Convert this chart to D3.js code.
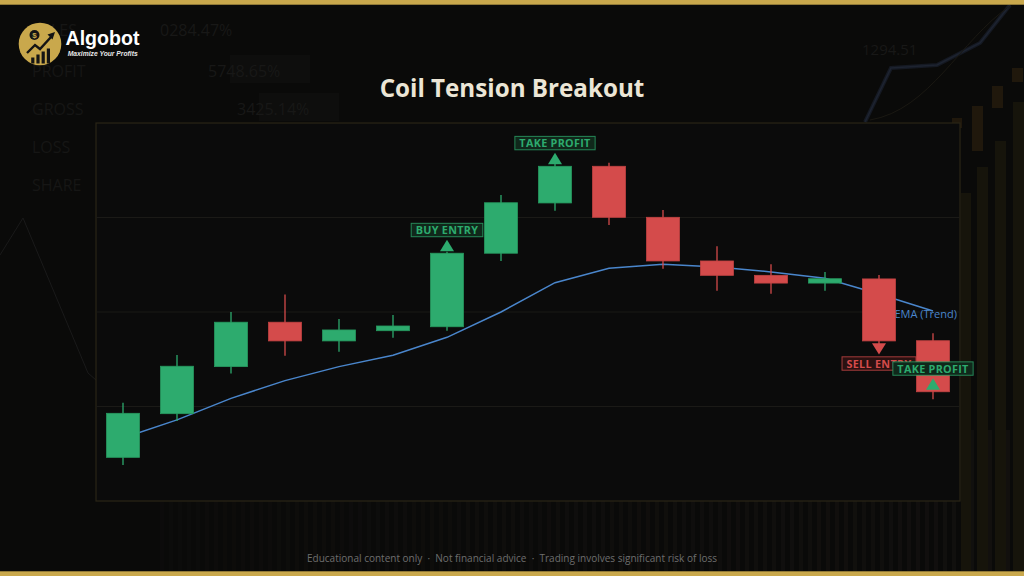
<!DOCTYPE html>
<html><head><meta charset="utf-8">
<script src="https://cdn.jsdelivr.net/npm/d3@7"></script>
<style>html,body{margin:0;padding:0;background:#0a0a09;overflow:hidden}svg{display:block}</style>
</head><body><svg id="c" width="1024" height="576"></svg>
<script>
// ---- data ----
const candleIds = ["1","2","3","4","5","6","7","8","9","10","11","12","13","14","15","16"];
const opens  = [102.31,104.62,107.11,109.46,108.47,109.01,109.22,113.11,115.77,117.71,115.01,112.70,111.94,111.53,111.75,108.48];
const highs  = [105.20,107.72,110.00,110.93,109.63,109.84,113.19,116.19,117.88,117.90,115.40,113.48,112.52,112.12,111.96,108.87];
const lows   = [101.90,104.23,106.74,107.69,107.90,108.64,109.01,112.70,115.36,114.60,112.29,111.13,110.97,111.13,108.25,105.38];
const closes = [104.64,107.13,109.46,108.47,109.05,109.26,113.11,115.78,117.71,115.01,112.70,111.94,111.53,111.76,108.47,105.78];
const emaValues = [103.33,104.29,105.43,106.37,107.11,107.71,108.66,110.00,111.55,112.31,112.52,112.38,112.12,111.78,110.95,110.05];
const priceTicks = [100,105,110,115,120];
const markerIndex = [6,8,14,15];
const markerText  = ["BUY ENTRY","TAKE PROFIT","SELL ENTRY","TAKE PROFIT"];
const markerDir   = ["up","up","down","up"];
const titleText = "Coil Tension Breakout";
const emaLabel = "EMA (Trend)";
const footerText = "Educational content only  ·  Not financial advice  ·  Trading involves significant risk of loss";
const bgNames = ["SALES","PROFIT","GROSS","LOSS","SHARE"];
const bgNums = ["0284.47%","5748.65%","3425.14%","1294.51"];

// ---- setup ----
const W = 1024, H = 576;
const svg = d3.select("#c");
const GREEN = "#2dab6e", RED = "#d44b4b", GOLD = "#c9a84c";
const plot = {x0:96, x1:960, y0:123, y1:501};

// background
svg.append("rect").attr("width",W).attr("height",H).attr("fill","#0a0a09");
const bg = svg.append("g");
// faint stripes
const stripes = d3.range(160, 1024, 9);
bg.selectAll("rect.st").data(stripes).join("rect")
  .attr("x",d=>d).attr("y",430).attr("width",4).attr("height",141)
  .attr("fill","#141210").attr("opacity",d=>0.3 + 0.5*(d-160)/864);
// faint right bars
const rbars = [[961,193,10],[977,167,11],[995,141,11],[1013,102,11]];
bg.selectAll("rect.vb").data(rbars).join("rect")
  .attr("x",d=>d[0]).attr("y",d=>d[1]).attr("width",d=>d[2]).attr("height",d=>571-d[1]).attr("fill","#16140b");
const rcand = [[952,118,10,10],[972,106,11,45],[992,86,11,22],[1012,68,11,14]];
bg.selectAll("rect.rc").data(rcand).join("rect")
  .attr("x",d=>d[0]).attr("y",d=>d[1]).attr("width",d=>d[2]).attr("height",d=>d[3]).attr("fill","#20180c");
// faint lines
bg.append("path").attr("d","M0,255 L23,218 L88,373 L96,380").attr("fill","none").attr("stroke","#1a1a1a").attr("stroke-width",1);
bg.append("path").attr("d","M865,122 L891,68 L937,65 L980,43 L1010,5").attr("fill","none").attr("stroke","#151922").attr("stroke-width",4);
bg.append("path").attr("d","M865,122 L891,68 L937,65 L980,43 L1010,5").attr("fill","none").attr("stroke","#1d2330").attr("stroke-width",1.5);
bg.append("path").attr("d","M870,120 C930,110 960,40 1010,6").attr("fill","none").attr("stroke","#1a1812").attr("stroke-width",1);
// faint texts
const bgNameY = [36,77,115,153,191];
bg.selectAll("text.bn").data(bgNames).join("text")
  .attr("x",32).attr("y",(d,i)=>bgNameY[i]).text(d=>d)
  .attr("fill","#161615").attr("font-family","Open Sans").attr("font-size",16);
const bgNumPos = [[160,36],[208,77],[237,115],[862,55]];
bg.selectAll("rect.bnr").data(bgNumPos.slice(1,3)).join("rect")
  .attr("x",d=>d[0]+22).attr("y",d=>d[1]-22).attr("width",80).attr("height",28).attr("fill","#0e0e0d");
bg.selectAll("text.bnum").data(bgNums).join("text")
  .attr("x",(d,i)=>bgNumPos[i][0]).attr("y",(d,i)=>bgNumPos[i][1]).text(d=>d)
  .attr("fill","#181817").attr("font-family","Open Sans").attr("font-size",(d,i)=>i==3?15:16);

// gold bars
svg.append("rect").attr("x",0).attr("y",0).attr("width",W).attr("height",4.7).attr("fill",GOLD);
svg.append("rect").attr("x",0).attr("y",571.3).attr("width",W).attr("height",5).attr("fill",GOLD);

// logo
const logo = svg.append("g");
logo.append("circle").attr("cx",40).attr("cy",44).attr("r",21.3).attr("fill",GOLD);
const bars = [[31.2,57.5],[36.4,54.5],[41.6,51.5],[46.8,48.5]];
logo.selectAll("rect.lb").data(bars).join("rect")
  .attr("x",d=>d[0]).attr("y",d=>d[1]).attr("width",3.2).attr("height",d=>63.5-d[1]).attr("fill","#141414");
logo.append("path").attr("d","M27,53 L35,45 L40,49 L51,37").attr("fill","none").attr("stroke","#141414").attr("stroke-width",2.4);
logo.append("path").attr("d","M47.5,34.5 L55,32 L52.5,39.5 Z").attr("fill","#141414");
logo.append("circle").attr("cx",34.5).attr("cy",35).attr("r",5).attr("fill","#141414");
logo.append("text").attr("x",34.5).attr("y",37.9).attr("text-anchor","middle").text("$")
  .attr("fill",GOLD).attr("font-family","Liberation Sans").attr("font-weight","bold").attr("font-size",8);
logo.append("text").attr("x",65.5).attr("y",45.3).text("Algobot")
  .attr("fill","#ffffff").attr("font-family","Liberation Sans").attr("font-weight","bold").attr("font-size",19.5)
  .attr("textLength",74).attr("lengthAdjust","spacingAndGlyphs");
logo.append("text").attr("x",67.7).attr("y",55.5).text("Maximize Your Profits")
  .attr("fill","#e8e8e8").attr("font-family","Liberation Sans").attr("font-weight","bold").attr("font-style","italic").attr("font-size",7.6)
  .attr("textLength",70).attr("lengthAdjust","spacingAndGlyphs");

// title
svg.append("text").attr("x",512).attr("y",96.5).attr("text-anchor","middle").text(titleText)
  .attr("fill","#ece6d6").attr("font-family","Open Sans").attr("font-weight","bold").attr("font-size",24.2);

// footer
svg.append("text").attr("x",512).attr("y",562).attr("text-anchor","middle").text(footerText)
  .attr("fill","#6e6e6e").attr("font-family","Open Sans").attr("font-size",10.5)
  .attr("textLength",410).attr("lengthAdjust","spacingAndGlyphs").style("white-space","pre");

// ---- scales ----
const x = d3.scaleBand().domain(candleIds).range([plot.x0, plot.x1]).padding(0);
const y = d3.scaleLinear().domain([priceTicks[0], priceTicks[priceTicks.length-1]]).range([plot.y1, plot.y0]);
const cx = i => x(candleIds[i]) + x.bandwidth()/2;
const bodyW = x.bandwidth()*0.61;

// plot frame
svg.append("rect").attr("x",plot.x0).attr("y",plot.y0).attr("width",plot.x1-plot.x0).attr("height",plot.y1-plot.y0)
  .attr("fill","#0b0b0b").attr("stroke","#2a2517").attr("stroke-width",1.2);
// grid
svg.append("g").selectAll("line").data(priceTicks.slice(1,-1)).join("line")
  .attr("x1",plot.x0).attr("x2",plot.x1).attr("y1",d=>y(d)).attr("y2",d=>y(d))
  .attr("stroke","#1b1a17").attr("stroke-width",1);

// EMA line
const line = d3.line().x((d,i)=>cx(i)).y(d=>y(d));
svg.append("path").datum(emaValues).attr("d",line).attr("fill","none")
  .attr("stroke","#4a86cc").attr("stroke-width",1.5);
svg.append("text").attr("x",957).attr("y",317.5).attr("text-anchor","end").text(emaLabel)
  .attr("fill","#4a86cc").attr("font-family","Open Sans").attr("font-size",11);

// candles
const cg = svg.append("g");
candleIds.forEach((id,i)=>{
  const up = closes[i] >= opens[i];
  const col = up ? GREEN : RED;
  cg.append("line").attr("x1",cx(i)).attr("x2",cx(i)).attr("y1",y(highs[i])).attr("y2",y(lows[i]))
    .attr("stroke",col).attr("stroke-width",1.3);
  const top = y(Math.max(opens[i],closes[i])), bot = y(Math.min(opens[i],closes[i]));
  cg.append("rect").attr("x",cx(i)-bodyW/2).attr("y",top).attr("width",bodyW).attr("height",Math.max(bot-top,1))
    .attr("fill",col).attr("stroke",up?"#27995f":"#c24343").attr("stroke-width",0.8);
});

// markers
const mg = svg.append("g");
markerIndex.forEach((ci,k)=>{
  const up = markerDir[k]==="up";
  const col = (markerText[k].startsWith("SELL")) ? RED : GREEN;
  const fill = col===RED ? "#2a1111" : "#10281b";
  const xc = cx(ci), ya = y(closes[ci]);
  const g = mg.append("g");
  let tri, boxY;
  if(up){
    tri = `M${xc-7},${ya-2} L${xc+7},${ya-2} L${xc},${ya-13.5} Z`;
    boxY = ya-13.5-3-13.4;
  } else {
    tri = `M${xc-7},${ya+2.3} L${xc+7},${ya+2.3} L${xc},${ya+13.5} Z`;
    boxY = ya+13.5+2.4;
  }
  g.append("path").attr("d",tri).attr("fill",col);
  const rect = g.append("rect").attr("y",boxY).attr("height",13.4).attr("fill",fill).attr("stroke",col).attr("stroke-opacity",0.75).attr("stroke-width",1);
  const t = g.append("text").attr("x",xc).attr("y",boxY+10.8).attr("text-anchor","middle").text(markerText[k])
    .attr("fill",col).attr("font-family","Open Sans").attr("font-weight","bold").attr("font-size",10.8).attr("letter-spacing",0.3);
  const bw = t.node().getComputedTextLength() + 9;
  rect.attr("x",xc-bw/2).attr("width",bw);
});
</script></body></html>
